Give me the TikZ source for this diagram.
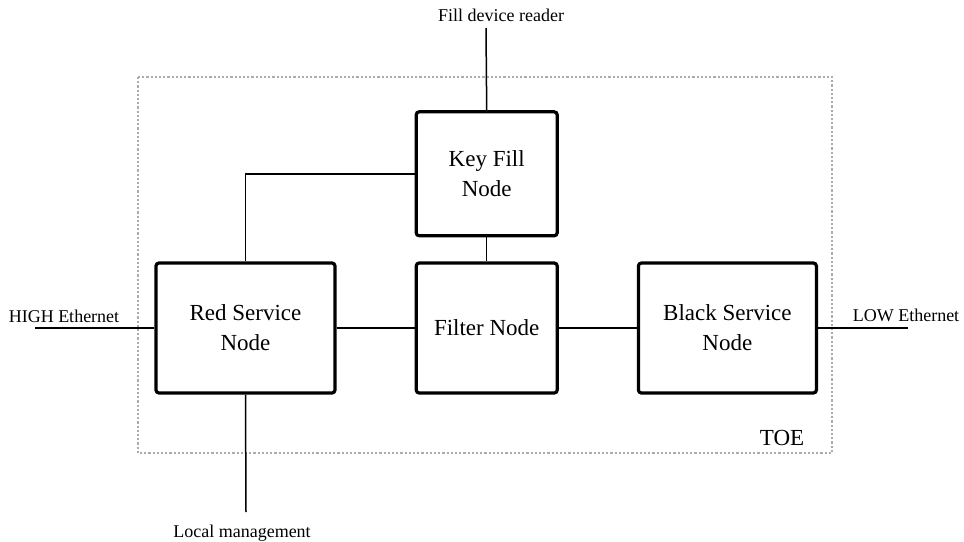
\documentclass[tikz,border=0pt]{standalone}
\usepackage{fontspec}
\setmainfont{Liberation Serif}
\usepackage{tikz}
\usetikzlibrary{positioning}

\begin{document}
\begin{tikzpicture}[
  x=0.5pt, y=-0.5pt, node distance=12pt and 39pt,
  svcbox/.style={draw,line width=1.6pt,rounded corners=1.5pt,align=center,
    minimum height=65pt,inner sep=2pt,font=\fontsize{11.5}{15}\selectfont},
  wire/.style={line width=0.75pt},
  extlabel/.style={inner sep=0pt,font=\fontsize{9}{11}\selectfont}]
  \useasboundingbox (0,0) rectangle (964,541);
  % TOE boundary
  \draw[gray!65,line width=1.1pt,densely dotted] (138,77) rectangle (832,453);
  \node[font=\fontsize{11.5}{14}\selectfont] (toe) at (782,438) {TOE};
  % nodes
  \node[svcbox,minimum width=89.5pt] (red) at (245.5,328) {Red Service\\Node};
  \node[svcbox,minimum width=70.5pt,right=of red] (filter) {Filter Node};
  \node[svcbox,minimum width=70.5pt,minimum height=62pt,above=of filter] (key) {Key Fill\\Node};
  \node[svcbox,minimum width=89pt,right=of filter] (black) {Black Service\\Node};
  % external ends
  \coordinate (hi) at (35,328);
  \coordinate (lo) at (908,328);
  \coordinate (fdr) at (486,28);
  \coordinate (mgmt) at (246,512);
  \node[extlabel] (hilab) at (64,316) {HIGH Ethernet};
  \node[extlabel] (lolab) at (906,315) {LOW Ethernet};
  \node[extlabel] (fdrlab) at (501,15) {Fill device reader};
  \node[extlabel] (mgmtlab) at (242,533) {Local management};
  % links
  \draw[wire] (red) -- (filter);
  \draw[wire] (filter) -- (black);
  \draw[wire] (key) -- (filter);
  \draw[wire] (red.north) |- (key.west);
  \draw[wire] (fdr) -- (key.north);
  \draw[wire] (red.south) -- (mgmt);
  \draw[wire] (hi) -- (red.west);
  \draw[wire] (black.east) -- (lo);
\end{tikzpicture}
\end{document}
